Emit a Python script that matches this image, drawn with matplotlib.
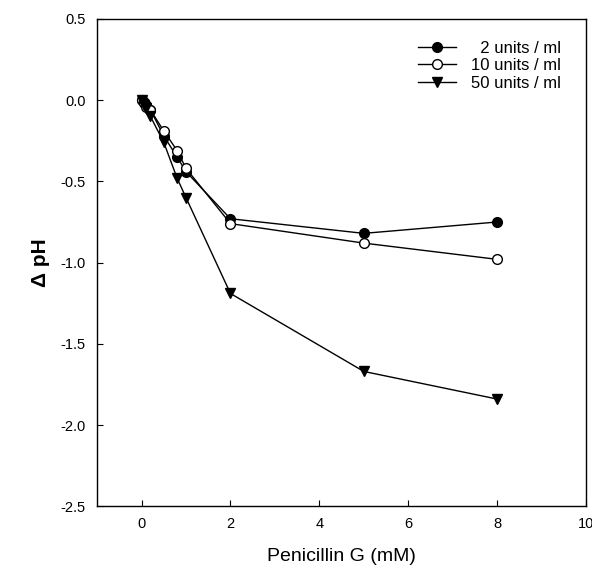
import matplotlib.pyplot as plt

plt.rcParams['font.family'] = ['Liberation Sans', 'DejaVu Sans']

conc = [0, 0.05, 0.1, 0.2, 0.5, 0.8, 1, 2, 5, 8]
u2 = [0, -0.01, -0.03, -0.06, -0.22, -0.35, -0.44, -0.73, -0.82, -0.75]
u10 = [0, -0.02, -0.04, -0.06, -0.19, -0.31, -0.42, -0.76, -0.88, -0.98]
u50 = [0, -0.03, -0.05, -0.10, -0.26, -0.48, -0.60, -1.19, -1.67, -1.84]
labels = ['  2 units / ml', '10 units / ml', '50 units / ml']

fig = plt.figure(figsize=(5.92, 5.74), dpi=100)
ax = fig.add_axes([0.164, 0.118, 0.826, 0.849])

ax.plot(conc, u2, '-o', color='black', mfc='black', ms=7, lw=1, label=labels[0])
ax.plot(conc, u10, '-o', color='black', mfc='white', ms=7, lw=1, label=labels[1])
ax.plot(conc, u50, '-v', color='black', mfc='black', ms=7.5, lw=1, label=labels[2])

ax.set_xlim(-1, 10)
ax.set_ylim(-2.5, 0.5)
ax.set_xticks([0, 2, 4, 6, 8, 10])
ax.set_yticks([0.5, 0.0, -0.5, -1.0, -1.5, -2.0, -2.5])
ax.set_yticklabels(['0.5', '0.0', '-0.5', '-1.0', '-1.5', '-2.0', '-2.5'])
ax.tick_params(direction='in', length=4, labelsize=10.5, pad=8)
for s in ax.spines.values():
    s.set_linewidth(1)

ax.set_xlabel('Penicillin G (mM)', fontsize=14, labelpad=12)
ax.set_ylabel('Δ pH', fontsize=15, fontweight='bold', labelpad=8)

ax.legend(loc='upper right', frameon=False, fontsize=12, handlelength=2.3,
          borderaxespad=1.2, bbox_to_anchor=(1.004, 1.01), labelspacing=0.15,
          handletextpad=0.9)

plt.savefig('out.png', dpi=100)
